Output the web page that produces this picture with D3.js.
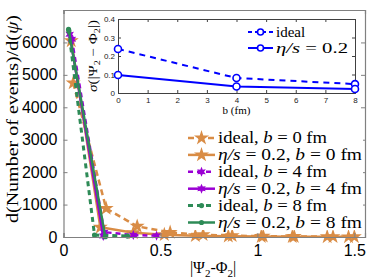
<!DOCTYPE html>
<html>
<head>
<meta charset="utf-8">
<script src="https://cdn.jsdelivr.net/npm/d3@7"></script>
<style>
body { margin: 0; background: #fff; }
.tick text { font-family: "Liberation Sans", Arial, sans-serif; }
.serif { font-family: "Liberation Serif", "DejaVu Serif", serif; }
</style>
</head>
<body>
<div id="chart"></div>
<script>
// main histogram series: |Psi2 - Phi2| vs counts
var idealB0X = [0.05, 0.22, 0.38, 0.55, 0.72, 0.87, 1.03, 1.19, 1.39, 1.5];
var idealB0Y = [4750, 880, 330, 140, 70, 40, 25, 15, 10, 8];
var viscB0X = [0.04, 0.19, 0.36, 0.52, 0.68, 0.85, 1.02, 1.18, 1.36, 1.47];
var viscB0Y = [6050, 300, 130, 70, 40, 25, 15, 10, 8, 5];
var idealB4X = [0.043, 0.21, 0.36, 0.48];
var idealB4Y = [6100, 150, 60, 40];
var viscB4X = [0.032, 0.205];
var viscB4Y = [6250, 30];
var idealB8X = [0.026, 0.16, 0.33];
var idealB8Y = [6400, 60, 30];
var viscB8X = [0.028, 0.215];
var viscB8Y = [6350, 10];

var xTicks = [0, 0.5, 1, 1.5];
var yTicks = [0, 1000, 2000, 3000, 4000, 5000, 6000];

// inset: width of the distribution vs impact parameter
var insetB = [0, 4, 8];
var insetIdeal = [0.238, 0.081, 0.048];
var insetVisc = [0.097, 0.035, 0.022];
var insetXTicks = [0, 1, 2, 3, 4, 5, 6, 7, 8];
var insetYTicks = [0, 0.1, 0.2, 0.3, 0.4];

var W = 374, H = 280;
var svg = d3.select("#chart").append("svg")
    .attr("width", W)
    .attr("height", H);

var orange = "#d98c45", purple = "#9a00d4", green = "#2e8b57", blue = "#0000ff";

// main axes box
var m = {left: 63.5, top: 10, right: 365, bottom: 237};
var x = d3.scaleLinear().domain([0, 1.555]).range([m.left, m.right]);
var y = d3.scaleLinear().domain([0, 7000]).range([m.bottom, m.top]);

function zip(xs, ys) { return xs.map(function(v, i) { return [v, ys[i]]; }); }

function hexagram(r) {
    var pts = [];
    for (var i = 0; i < 12; i++) {
        var a = Math.PI / 6 * i - Math.PI / 2;
        var rr = i % 2 === 0 ? r : r * 0.5;
        pts.push([rr * Math.cos(a), rr * Math.sin(a)]);
    }
    return "M" + pts.join("L") + "Z";
}
var star = d3.symbol().type(d3.symbolStar).size(70)();
var hex = hexagram(5);

var series = [
    {x: idealB8X, y: idealB8Y, color: green, dash: "5,4", width: 3, marker: "dot"},
    {x: viscB8X, y: viscB8Y, color: green, dash: null, width: 2.5, marker: "dot"},
    {x: idealB4X, y: idealB4Y, color: purple, dash: "5,4", width: 2.5, marker: "hex"},
    {x: viscB4X, y: viscB4Y, color: purple, dash: null, width: 2.5, marker: "hex"},
    {x: idealB0X, y: idealB0Y, color: orange, dash: "6,4", width: 2.5, marker: "star"},
    {x: viscB0X, y: viscB0Y, color: orange, dash: null, width: 2.5, marker: "star"}
];

var line = d3.line().x(function(d) { return x(d[0]); }).y(function(d) { return y(d[1]); });

function drawMarker(g, marker, color) {
    if (marker === "dot") {
        g.append("circle").attr("r", 2.6).attr("fill", color);
    } else if (marker === "hex") {
        g.append("path").attr("d", hex).attr("fill", color);
    } else {
        g.append("path").attr("d", star).attr("fill", color);
    }
}

var plot = svg.append("g");
series.slice().reverse().forEach(function(s) {
    var pts = zip(s.x, s.y);
    plot.append("path")
        .datum(pts)
        .attr("fill", "none")
        .attr("stroke", s.color)
        .attr("stroke-width", s.width)
        .attr("stroke-dasharray", s.dash)
        .attr("d", line);
    pts.forEach(function(p) {
        var g = plot.append("g").attr("transform", "translate(" + x(p[0]) + "," + y(p[1]) + ")");
        drawMarker(g, s.marker, s.color);
    });
});

// main axes with ticks inward on all sides
function styleAxis(g) {
    g.select(".domain").attr("stroke", "#808080").attr("stroke-width", 1.2);
    g.selectAll(".tick line").attr("stroke", "#808080");
}
svg.append("g")
    .attr("transform", "translate(0," + m.bottom + ")")
    .call(d3.axisBottom(x).tickValues(xTicks).tickSize(-4).tickPadding(8).tickFormat(d3.format("")))
    .call(styleAxis)
    .call(function(g) { g.selectAll("text").attr("font-size", 16).attr("fill", "#000"); });
svg.append("g")
    .attr("transform", "translate(0," + m.top + ")")
    .call(d3.axisTop(x).tickValues(xTicks).tickSize(-4).tickFormat(""))
    .call(styleAxis);
svg.append("g")
    .attr("transform", "translate(" + m.left + ",0)")
    .call(d3.axisLeft(y).tickValues(yTicks).tickSize(-4).tickPadding(6).tickFormat(d3.format("d")))
    .call(styleAxis)
    .call(function(g) { g.selectAll("text").attr("font-size", 16).attr("fill", "#000"); });
svg.append("g")
    .attr("transform", "translate(" + m.right + ",0)")
    .call(d3.axisRight(y).tickValues(yTicks).tickSize(-4).tickFormat(""))
    .call(styleAxis);

// axis titles
var yl = svg.append("text")
    .attr("class", "serif")
    .attr("transform", "translate(18,119) rotate(-90)")
    .attr("text-anchor", "middle")
    .attr("font-size", 16)
    .attr("textLength", 208)
    .attr("lengthAdjust", "spacingAndGlyphs");
yl.append("tspan").text("d(Number of events)/d(");
yl.append("tspan").attr("font-style", "italic").text("ψ");
yl.append("tspan").text(")");

var xl = svg.append("text")
    .attr("class", "serif")
    .attr("x", 213).attr("y", 273)
    .attr("text-anchor", "middle")
    .attr("font-size", 16);
xl.append("tspan").text("|Ψ");
xl.append("tspan").attr("font-size", 11).attr("dy", 4).text("2");
xl.append("tspan").attr("dy", -4).text("-Φ");
xl.append("tspan").attr("font-size", 11).attr("dy", 4).text("2");
xl.append("tspan").attr("dy", -4).text("|");

// main legend
var legendLabels = [
    ["ideal, ", "b", " = 0 fm"],
    ["η/s", " = 0.2, ", "b", " = 0 fm"],
    ["ideal, ", "b", " = 4 fm"],
    ["η/s", " = 0.2, ", "b", " = 4 fm"],
    ["ideal, ", "b", " = 8 fm"],
    ["η/s", " = 0.2, ", "b", " = 8 fm"]
];
var legendOrder = [4, 5, 2, 3, 0, 1];
var legendWidths = [109, 144, 109, 144, 109, 144];
var leg = svg.append("g");
leg.append("rect").attr("x", 182).attr("y", 129).attr("width", 181).attr("height", 101).attr("fill", "#fff");
legendOrder.forEach(function(si, i) {
    var s = series[si];
    var ly = 138 + i * 16.9;
    leg.append("line")
        .attr("x1", 188).attr("x2", 215).attr("y1", ly).attr("y2", ly)
        .attr("stroke", s.color).attr("stroke-width", s.width)
        .attr("stroke-dasharray", s.dash);
    var g = leg.append("g").attr("transform", "translate(201.5," + ly + ")");
    drawMarker(g, s.marker, s.color);
    var t = leg.append("text")
        .attr("class", "serif")
        .attr("x", 218).attr("y", ly + 5)
        .attr("font-size", 16)
        .attr("textLength", legendWidths[i])
        .attr("lengthAdjust", "spacingAndGlyphs");
    legendLabels[i].forEach(function(part) {
        var it = (part === "b" || part === "η/s");
        t.append("tspan").attr("font-style", it ? "italic" : null).text(part);
    });
});

// inset
var im = {left: 118, top: 19, right: 355, bottom: 93};
svg.append("rect")
    .attr("x", im.left - 32).attr("y", 11)
    .attr("width", im.right - im.left + 38).attr("height", 105)
    .attr("fill", "#fff");
var ix = d3.scaleLinear().domain([0, 8]).range([im.left, im.right]);
var iy = d3.scaleLinear().domain([0, 0.4]).range([im.bottom, im.top]);

function styleInset(g) {
    g.select(".domain").attr("stroke", "#404040").attr("stroke-width", 1);
    g.selectAll(".tick line").attr("stroke", "#404040");
    g.selectAll("text").attr("font-size", 8).attr("fill", "#222");
}
svg.append("g")
    .attr("transform", "translate(0," + im.bottom + ")")
    .call(d3.axisBottom(ix).tickValues(insetXTicks).tickSize(-3).tickPadding(4))
    .call(styleInset);
svg.append("g")
    .attr("transform", "translate(0," + im.top + ")")
    .call(d3.axisTop(ix).tickValues(insetXTicks).tickSize(-3).tickFormat(""))
    .call(styleInset);
svg.append("g")
    .attr("transform", "translate(" + im.left + ",0)")
    .call(d3.axisLeft(iy).tickValues(insetYTicks).tickSize(-3).tickPadding(3).tickFormat(function(d) { return d === 0 ? "0" : d3.format(".1f")(d); }))
    .call(styleInset);
svg.append("g")
    .attr("transform", "translate(" + im.right + ",0)")
    .call(d3.axisRight(iy).tickValues(insetYTicks).tickSize(-3).tickFormat(""))
    .call(styleInset);

var iline = d3.line().x(function(d) { return ix(d[0]); }).y(function(d) { return iy(d[1]); });
[[insetIdeal, "6,5"], [insetVisc, null]].forEach(function(s) {
    var pts = zip(insetB, s[0]);
    svg.append("path").datum(pts)
        .attr("fill", "none").attr("stroke", blue).attr("stroke-width", 2)
        .attr("stroke-dasharray", s[1]).attr("d", iline);
    svg.selectAll(null).data(pts).enter().append("circle")
        .attr("cx", function(d) { return ix(d[0]); })
        .attr("cy", function(d) { return iy(d[1]); })
        .attr("r", 3.5).attr("fill", "#fff").attr("stroke", blue).attr("stroke-width", 1.6);
});

svg.append("text")
    .attr("class", "serif")
    .attr("x", ix(4)).attr("y", 114)
    .attr("text-anchor", "middle").attr("font-size", 11)
    .text("b (fm)");

var isl = svg.append("text")
    .attr("class", "serif")
    .attr("transform", "translate(97,56) rotate(-90)")
    .attr("text-anchor", "middle").attr("font-size", 12)
    .attr("textLength", 72)
    .attr("lengthAdjust", "spacingAndGlyphs");
isl.append("tspan").attr("font-style", "italic").text("σ");
isl.append("tspan").text("(|Ψ");
isl.append("tspan").attr("font-size", 8).attr("dy", 3).text("2");
isl.append("tspan").attr("dy", -3).text(" − Φ");
isl.append("tspan").attr("font-size", 8).attr("dy", 3).text("2");
isl.append("tspan").attr("dy", -3).text("|)");

// inset legend
var insetLegend = [["ideal", "6,5", null], ["η/s", null, " = 0.2"]];
insetLegend.forEach(function(it, i) {
    var ly = 32 + i * 16;
    svg.append("line").attr("x1", 248).attr("x2", 273).attr("y1", ly).attr("y2", ly)
        .attr("stroke", blue).attr("stroke-width", 2).attr("stroke-dasharray", it[1] ? "4,3" : null);
    svg.append("circle").attr("cx", 260.5).attr("cy", ly).attr("r", 3)
        .attr("fill", "#fff").attr("stroke", blue).attr("stroke-width", 1.6);
    var t = svg.append("text").attr("class", "serif")
        .attr("x", 276).attr("y", ly + 4.5).attr("font-size", 15);
    if (i === 0) {
        t.text(it[0]);
    } else {
        t.attr("textLength", 72).attr("lengthAdjust", "spacingAndGlyphs");
        t.append("tspan").attr("font-style", "italic").text(it[0]);
        t.append("tspan").text(it[2]);
    }
});
</script>
</body>
</html>
